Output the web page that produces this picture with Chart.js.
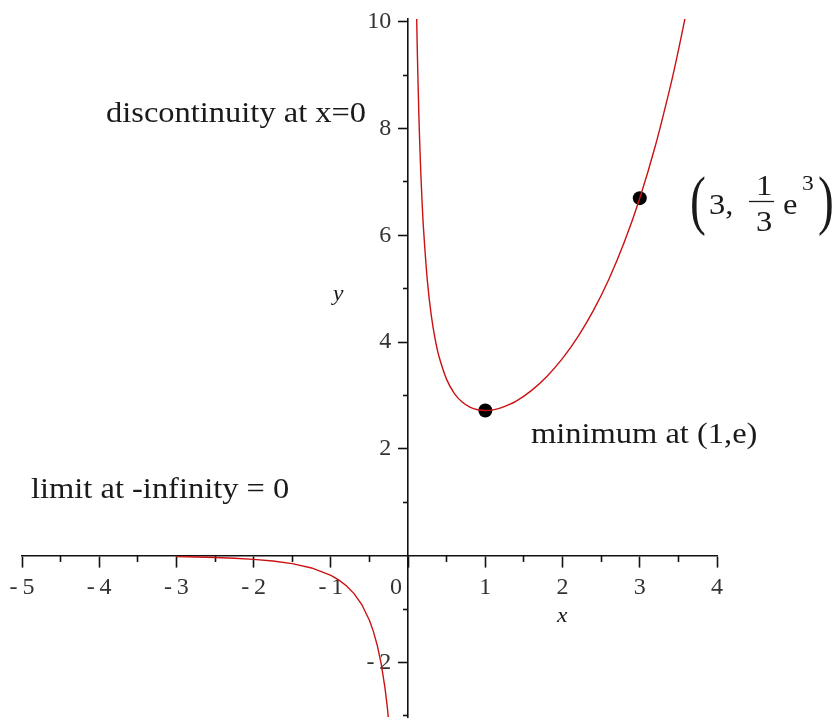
<!DOCTYPE html>
<html>
<head>
<meta charset="utf-8">
<script src="https://cdn.jsdelivr.net/npm/chart.js@4.4.1/dist/chart.umd.min.js"></script>
<style>
  html, body { margin: 0; padding: 0; background: #ffffff; }
  #wrap { width: 838px; height: 724px; position: relative; }
</style>
</head>
<body>
<div id="wrap"><canvas id="c" width="838" height="724"></canvas></div>
<script>
// ---- data: y = e^x / x ----
const leftX  = [-3, -2.75, -2.5, -2.25, -2, -1.75, -1.5, -1.25, -1, -0.9, -0.8, -0.7, -0.6, -0.5, -0.45, -0.4, -0.35, -0.3, -0.27, -0.25];
const leftY  = [-0.0166, -0.0232, -0.0328, -0.0468, -0.0677, -0.0993, -0.1488, -0.2292, -0.3679, -0.4518, -0.5616, -0.7094, -0.9147, -1.2131, -1.4169, -1.6758, -2.0134, -2.4694, -2.8274, -3.1152];
const rightX = [0.09, 0.1, 0.11, 0.12, 0.14, 0.16, 0.18, 0.2, 0.25, 0.3, 0.35, 0.4, 0.5, 0.6, 0.7, 0.8, 0.9, 1.0, 1.1, 1.2, 1.4, 1.6, 1.8, 2.0, 2.2, 2.4, 2.6, 2.8, 3.0, 3.2, 3.4, 3.5, 3.6, 3.65];
const rightY = [12.158, 11.052, 10.148, 9.396, 8.2165, 7.334, 6.651, 6.107, 5.136, 4.4995, 4.0546, 3.7296, 3.2974, 3.0369, 2.8768, 2.7819, 2.7329, 2.7183, 2.7311, 2.7668, 2.8966, 3.0956, 3.3609, 3.6945, 4.1023, 4.5930, 5.1784, 5.8731, 6.6952, 7.6664, 8.8130, 9.4616, 10.1662, 10.541];
const markX  = [1, 3];
const markY  = [2.7183, 6.6952];

const xMajorTicks = [-5, -4, -3, -2, -1, 0, 1, 2, 3, 4];
const xTickLabels = ['-\u20095', '-\u20094', '-\u20093', '-\u20092', '-\u20091', '0', '1', '2', '3', '4'];
const xMinorTicks = [-4.5, -3.5, -2.5, -1.5, -0.5, 0.5, 1.5, 2.5, 3.5];
const yMajorTicks = [-2, 2, 4, 6, 8, 10];
const yTickLabels = ['-\u20092', '2', '4', '6', '8', '10'];
const yMinorTicks = [-3, -1, 1, 3, 5, 7, 9];

const pts = (xs, ys) => xs.map((x, i) => ({ x: x, y: ys[i] }));

const SERIF = '"Liberation Serif", "Times New Roman", serif';
const AX = '#111111';
const GAP_Y = '\u2002\u2009';   // pushes right-aligned y labels off the axis
const GAP_0 = '\u2002\u2002';   // nudges the "0" label left of the y axis

function setTicks(values) {
  return function (scale) { scale.ticks = values.map(v => ({ value: v })); };
}
function noPad(scale) {
  scale.paddingLeft = 0; scale.paddingRight = 0; scale.paddingTop = 0; scale.paddingBottom = 0;
}

const annot = {
  id: 'annot',
  afterDraw(chart) {
    const ctx = chart.ctx;
    function txt(s, x, y, size, style, sx) {
      ctx.save();
      ctx.font = (style || '') + ' ' + size + 'px ' + SERIF;
      ctx.fillStyle = '#1a1a1a';
      ctx.textBaseline = 'alphabetic';
      ctx.textAlign = 'left';
      ctx.translate(x, y);
      ctx.scale(sx || 1.12, 1);
      ctx.fillText(s, 0, 0);
      ctx.restore();
    }
    txt('discontinuity at x=0', 106, 122, 29);
    txt('minimum at (1,e)', 531, 443, 29);
    txt('limit at -infinity = 0', 31, 498, 29);
    // axis names
    txt('y', 333, 300, 21, 'italic');
    txt('x', 557, 622, 21, 'italic');
    // (3, 1/3 e^3)
    txt('(', 690, 222, 66, '', 0.72);
    txt(')', 818, 222, 66, '', 0.72);
    txt('3,', 709, 214, 29);
    txt('1', 756, 195, 29);
    txt('3', 756, 231, 29);
    ctx.save();
    ctx.strokeStyle = '#1a1a1a';
    ctx.lineWidth = 1.3;
    ctx.beginPath();
    ctx.moveTo(749, 201.5);
    ctx.lineTo(774, 201.5);
    ctx.stroke();
    ctx.restore();
    txt('e', 783, 214, 29);
    txt('3', 802, 190, 21);
  }
};

new Chart(document.getElementById('c'), {
  type: 'scatter',
  data: {
    datasets: [
      { data: pts(leftX, leftY), showLine: true, borderColor: '#cc1111', borderWidth: 1.4, pointRadius: 0, tension: 0, fill: false },
      { data: pts(rightX, rightY), showLine: true, borderColor: '#cc1111', borderWidth: 1.4, pointRadius: 0, tension: 0.3, fill: false },
      { data: pts(markX, markY), showLine: false, pointRadius: 7, pointBackgroundColor: '#000000', pointBorderColor: '#000000', pointBorderWidth: 0 }
    ]
  },
  options: {
    responsive: false,
    animation: false,
    devicePixelRatio: 1,
    layout: { padding: { left: 22, right: 121, top: 19, bottom: 0 } },
    plugins: { legend: { display: false }, tooltip: { enabled: false }, title: { display: false } },
    scales: {
      x: {
        type: 'linear', axis: 'x', min: -5, max: 4, position: { y: 0 },
        afterBuildTicks: setTicks(xMajorTicks), afterFit: noPad,
        grid: { display: true, drawOnChartArea: false, drawTicks: true, tickLength: 11, tickColor: AX, tickWidth: 1.6 },
        border: { display: true, color: AX, width: 1.6 },
        ticks: { autoSkip: false, maxRotation: 0, padding: 7, color: '#333333', font: { family: SERIF, size: 24 },
                 callback: (v, i) => (xTickLabels[i] === '0' ? '0' + GAP_0 : xTickLabels[i]) }
      },
      x2: {
        type: 'linear', axis: 'x', min: -5, max: 4, position: { y: 0 },
        afterBuildTicks: setTicks(xMinorTicks), afterFit: noPad,
        grid: { display: true, drawOnChartArea: false, drawTicks: true, tickLength: 6, tickColor: AX, tickWidth: 1.6 },
        border: { display: false },
        ticks: { display: false }
      },
      y: {
        type: 'linear', axis: 'y', min: -3.02, max: 10.05, position: { x: 0 },
        afterBuildTicks: setTicks(yMajorTicks), afterFit: noPad,
        grid: { display: true, drawOnChartArea: false, drawTicks: true, tickLength: 9, tickColor: AX, tickWidth: 1.6 },
        border: { display: true, color: AX, width: 1.6 },
        ticks: { autoSkip: false, padding: 7, color: '#333333', font: { family: SERIF, size: 24 },
                 callback: (v, i) => yTickLabels[i] + GAP_Y }
      },
      y2: {
        type: 'linear', axis: 'y', min: -3.02, max: 10.05, position: { x: 0 },
        afterBuildTicks: setTicks(yMinorTicks), afterFit: noPad,
        grid: { display: true, drawOnChartArea: false, drawTicks: true, tickLength: 5, tickColor: AX, tickWidth: 1.6 },
        border: { display: false },
        ticks: { display: false }
      }
    }
  },
  plugins: [annot]
});
</script>
</body>
</html>
